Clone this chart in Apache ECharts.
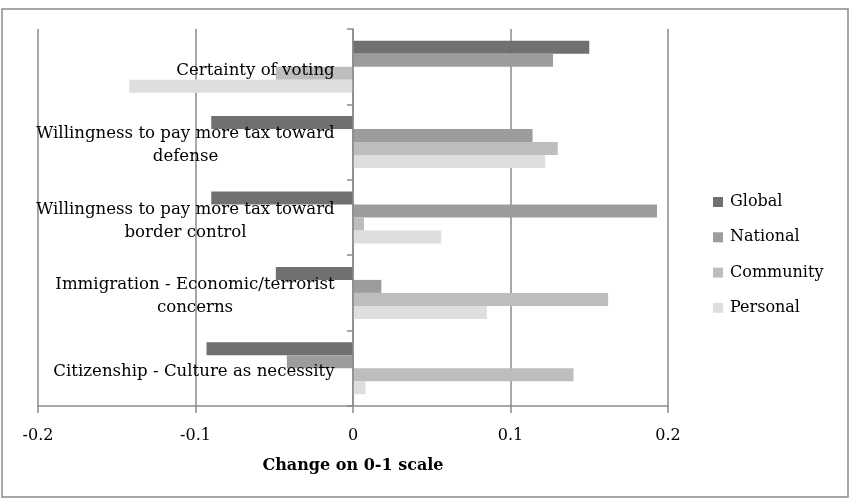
<!DOCTYPE html>
<html><head><meta charset="utf-8">
<script src="https://cdn.jsdelivr.net/npm/echarts@6/dist/echarts.min.js"></script>
<style>html,body{margin:0;padding:0;background:#fff}#c{width:850px;height:498px}</style>
</head><body><div id="c"></div>
<script>
const categories = [
  "Certainty of voting",
  "Willingness to pay more tax toward\ndefense",
  "Willingness to pay more tax toward\nborder control",
  "Immigration - Economic/terrorist\nconcerns",
  "Citizenship - Culture as necessity"
];
const seriesNames = ["Global", "National", "Community", "Personal"];
const globalVals    = [0.150, -0.090, -0.090, -0.049, -0.093];
const nationalVals  = [0.127, 0.114, 0.193, 0.018, -0.042];
const communityVals = [-0.049, 0.130, 0.007, 0.162, 0.140];
const personalVals  = [-0.142, 0.122, 0.056, 0.085, 0.008];
const xTicks = [-0.2, -0.1, 0, 0.1, 0.2];
const colors = ["#707070", "#9c9c9c", "#bdbdbd", "#dedede"];
const allVals = [globalVals, nationalVals, communityVals, personalVals];

const font = "'DejaVu Serif', serif";
const labelSize = 16.6;
// measure label widths so each multi-line label is centred on its own widest line
const cv = document.createElement('canvas').getContext('2d');
cv.font = labelSize + "px 'DejaVu Serif'";
const rich = {};
categories.forEach((c, i) => {
  const w = Math.max(...c.split('\n').map(s => cv.measureText(s).width));
  rich['c' + i] = {width: Math.ceil(w), align: 'center', fontFamily: font, fontSize: labelSize, color: '#000', lineHeight: 23};
});

const chart = echarts.init(document.getElementById('c'));
chart.setOption({
  animation: false,
  backgroundColor: '#fff',
  grid: {left: 38, right: 182, top: 29, bottom: 92, containLabel: false, outerBoundsMode: 'none'},
  legend: {
    orient: 'vertical', left: 708, top: 189, itemGap: 19.3,
    itemWidth: 10, itemHeight: 10, icon: 'rect',
    textStyle: {fontFamily: font, fontSize: 16, color: '#000', padding: [0, 0, 0, 2]},
    data: seriesNames
  },
  xAxis: {
    type: 'value', min: xTicks[0], max: xTicks[xTicks.length-1], interval: 0.1,
    axisLine: {show: true, onZero: false, lineStyle: {color: '#8a8a8a', width: 1.5}},
    axisTick: {show: true, length: 7, lineStyle: {color: '#8a8a8a', width: 1.5}},
    splitLine: {show: true, lineStyle: {color: '#8a8a8a', width: 1.5}},
    axisLabel: {fontFamily: font, fontSize: 16, color: '#000', margin: 22,
      formatter: v => (Math.round(v*10)/10).toString()},
    name: 'Change on 0-1 scale', nameLocation: 'middle', nameGap: 52,
    nameTextStyle: {fontFamily: font, fontSize: 16, fontWeight: 'bold', color: '#000'}
  },
  yAxis: {
    type: 'category', inverse: true, data: categories, z: 5,
    axisLine: {show: true, onZero: true, lineStyle: {color: '#8a8a8a', width: 1.5}},
    axisTick: {show: true, length: 6, lineStyle: {color: '#8a8a8a', width: 1.5}},
    axisLabel: {margin: -297, align: 'right', padding: [7, 0, 0, 0],
      formatter: (v, i) => v.split('\n').map(s => '{c' + i + '|' + s + '}').join('\n'),
      rich: rich},
    splitLine: {show: false}
  },
  series: seriesNames.map((n, i) => ({
    name: n, type: 'bar', data: allVals[i], barGap: '0%', barCategoryGap: '31%',
    itemStyle: {color: colors[i]}
  })),
  graphic: [{type: 'rect', shape: {x: 2, y: 9, width: 846, height: 488},
    style: {fill: 'none', stroke: '#8a8a8a', lineWidth: 1.5}, silent: true}]
});
</script></body></html>
